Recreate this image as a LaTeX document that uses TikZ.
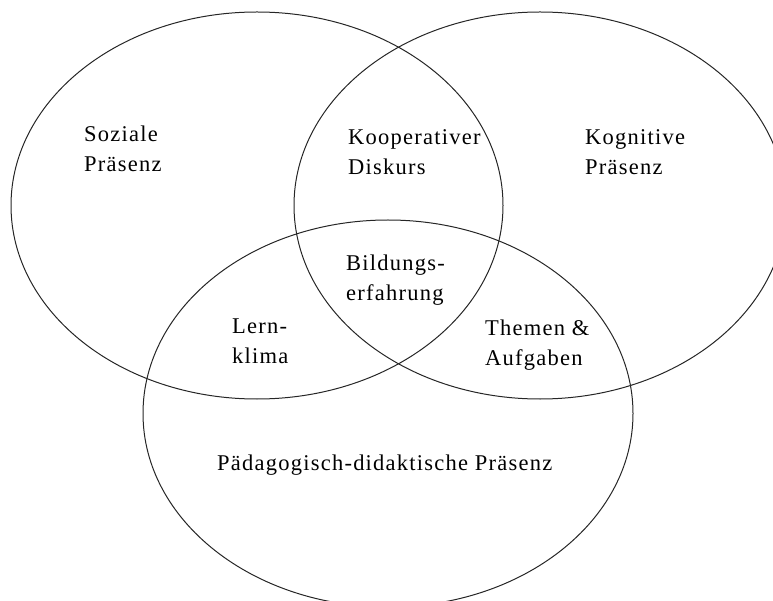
\documentclass[tikz,border=0pt]{standalone}
\usepackage{fontspec}
\setmainfont{Liberation Serif}[LetterSpace=5.5]
\begin{document}
\begin{tikzpicture}[x=1pt,y=-1pt,
  ring/.style={draw=black!85,line width=1pt},
  lbl/.style={font=\fontsize{22.5}{29.5}\selectfont,align=left,anchor=west,inner sep=0pt}]
  \useasboundingbox (0,0) rectangle (773,601);
  \clip (0,0) rectangle (773,601);
  % three overlapping presences
  \draw[ring] (257,205.5) ellipse [x radius=246, y radius=193.5];
  \draw[ring] (540,205.5) ellipse [x radius=246, y radius=193.5];
  \draw[ring] (388,413.5) ellipse [x radius=245, y radius=193.5];
  % region labels
  \node[lbl] (soz) at (84,149) {Soziale\\Präsenz};
  \node[lbl] (koop) at (348,152) {Kooperativer\\Diskurs};
  \node[lbl] (kog) at (585,152) {Kognitive\\Präsenz};
  \node[lbl] (bild) at (346,280) {Bildungs-\\erfahrung};
  \node[lbl] (lern) at (232,341) {Lern-\\klima};
  \node[lbl] (them) at (485,345) {Themen \&\\Aufgaben};
  \node[lbl] (paed) at (217,465) {Pädagogisch-didaktische Präsenz};
\end{tikzpicture}
\end{document}
